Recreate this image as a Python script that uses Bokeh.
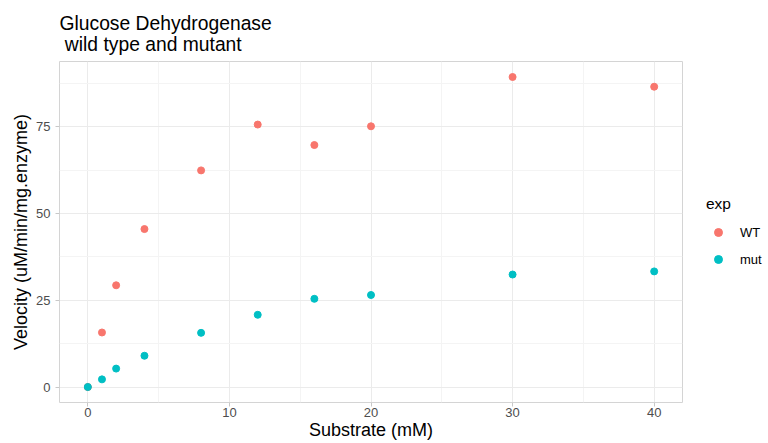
from bokeh.plotting import figure
from bokeh.models import FixedTicker, Legend, LegendItem, ColumnDataSource, Range1d
from bokeh.embed import file_html
from bokeh.resources import INLINE

# ---- data ----
substrate = [0, 1, 2, 4, 8, 12, 16, 20, 30, 40]
wt_velocity = [0, 15.7, 29.3, 45.5, 62.4, 75.6, 69.7, 75.1, 89.3, 86.5]
mut_velocity = [0, 2.2, 5.3, 9.0, 15.6, 20.8, 25.4, 26.5, 32.4, 33.3]
series_names = ["WT", "mut"]
series_colors = ["#F8766D", "#00BFC4"]
x_ticks = [0, 10, 20, 30, 40]
x_minor = [5, 15, 25, 35]
y_ticks = [0, 25, 50, 75]
y_minor = [12.5, 37.5, 62.5, 87.5]
title_text = "Glucose Dehydrogenase\n\u00a0wild type and mutant"

FONT = "Liberation Sans"

ymin = min(wt_velocity + mut_velocity)
ymax = max(wt_velocity + mut_velocity)
ypad = (ymax - ymin) * 0.05
xmin, xmax = min(substrate), max(substrate)
xpad = (xmax - xmin) * 0.05

p = figure(
    frame_width=623, frame_height=341,
    min_border_left=59, min_border_top=61, min_border_right=86, min_border_bottom=0,
    x_range=Range1d(xmin - xpad, xmax + xpad),
    y_range=Range1d(ymin - ypad, ymax + ypad),
    output_backend="svg", toolbar_location=None,
    title=title_text,
)

p.title.text_font = FONT
p.title.text_font_size = "19.3px"
p.title.text_font_style = "normal"
p.title.text_color = "#000000"
p.title.text_line_height = 1.0
p.title.align = "left"
p.title.offset = 0
p.title.standoff = 13

p.outline_line_color = "#D4D4D4"
p.outline_line_width = 1
p.background_fill_color = "white"
p.border_fill_color = "white"

p.xaxis.ticker = FixedTicker(ticks=x_ticks, minor_ticks=x_minor)
p.yaxis.ticker = FixedTicker(ticks=y_ticks, minor_ticks=y_minor)

for ax in (p.xaxis[0], p.yaxis[0]):
    ax.axis_line_color = None
    ax.major_tick_line_color = "#C8C8C8"
    ax.major_tick_in = 0
    ax.major_tick_out = 4
    ax.minor_tick_line_color = None
    ax.major_label_text_font = FONT
    ax.major_label_text_font_size = "13px"
    ax.major_label_text_color = "#4D4D4D"
    ax.axis_label_text_font = FONT
    ax.axis_label_text_font_size = "18px"
    ax.axis_label_text_font_style = "normal"
    ax.axis_label_text_color = "#000000"

p.xaxis.axis_label = "Substrate (mM)"
p.yaxis.axis_label = "Velocity (uM/min/mg.enzyme)"
p.xaxis.major_label_standoff = 1
p.xaxis.axis_label_standoff = 0
p.yaxis.major_label_standoff = 5
p.yaxis.axis_label_standoff = 2

for g in (p.xgrid[0], p.ygrid[0]):
    g.grid_line_color = "#EBEBEB"
    g.grid_line_width = 1
    g.minor_grid_line_color = "#F4F4F4"
    g.minor_grid_line_width = 1

renderers = []
for name, vals, col in zip(series_names, [wt_velocity, mut_velocity], series_colors):
    src = ColumnDataSource(dict(x=substrate, y=vals))
    r = p.scatter("x", "y", source=src, size=7, fill_color=col, line_color=col)
    renderers.append(r)

legend = Legend(
    items=[LegendItem(label=n, renderers=[r]) for n, r in zip(series_names, renderers)],
    title="exp",
    location=(24, 133),
    margin=0, padding=0,
    spacing=7,
    glyph_width=24, glyph_height=20, label_height=20,
    label_standoff=10,
    title_standoff=9,
    border_line_color=None,
    background_fill_alpha=0,
    label_text_font=FONT, label_text_font_size="13px", label_text_color="#000000",
    title_text_font=FONT, title_text_font_size="15.5px", title_text_font_style="normal",
    title_text_color="#000000",
)
p.add_layout(legend, "right")

open("out.html", "w").write(file_html(p, INLINE))
